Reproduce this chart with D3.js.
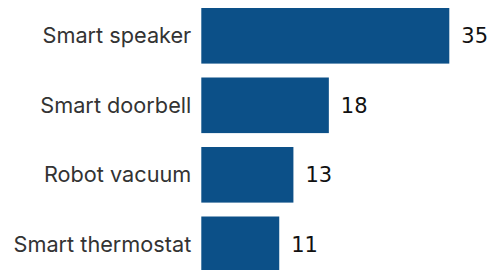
<!DOCTYPE html>
<html>
<head>
<meta charset="utf-8">
<script src="https://cdn.jsdelivr.net/npm/d3@7"></script>
<style>
  html, body { margin: 0; padding: 0; background: #fff; }
  svg { display: block; }
</style>
</head>
<body>
<svg id="chart" width="490" height="270"></svg>
<script>
const categories = ["Smart speaker", "Smart doorbell", "Robot vacuum", "Smart thermostat"];
const values = [35, 18, 13, 11];

const svg = d3.select("#chart");
const x = d3.scaleLinear().domain([0, 35]).range([201.3, 449.3]);
const y = d3.scaleBand().domain(categories).range([8, 272.1]).paddingInner(0.2).paddingOuter(0);

const data = categories.map((c, i) => ({ c, v: values[i] }));

svg.selectAll("rect.bar").data(data).join("rect")
  .attr("class", "bar")
  .attr("x", x(0))
  .attr("y", d => y(d.c))
  .attr("width", d => x(d.v) - x(0))
  .attr("height", y.bandwidth())
  .attr("fill", "#0c5088");

svg.selectAll("text.cat").data(data).join("text")
  .attr("class", "cat")
  .attr("x", x(0) - 10)
  .attr("y", d => y(d.c) + y.bandwidth() / 2)
  .attr("dy", "0.35em")
  .attr("text-anchor", "end")
  .attr("font-family", "Inter, Roboto, sans-serif")
  .attr("font-size", "21.7px")
  .attr("fill", "#333")
  .text(d => d.c);

svg.selectAll("text.val").data(data).join("text")
  .attr("class", "val")
  .attr("x", d => x(d.v) + 12)
  .attr("y", d => y(d.c) + y.bandwidth() / 2)
  .attr("dy", "0.35em")
  .attr("text-anchor", "start")
  .attr("font-family", "'DejaVu Sans', sans-serif")
  .attr("font-size", "21px")
  .attr("fill", "#111")
  .text(d => d.v);
</script>
</body>
</html>
